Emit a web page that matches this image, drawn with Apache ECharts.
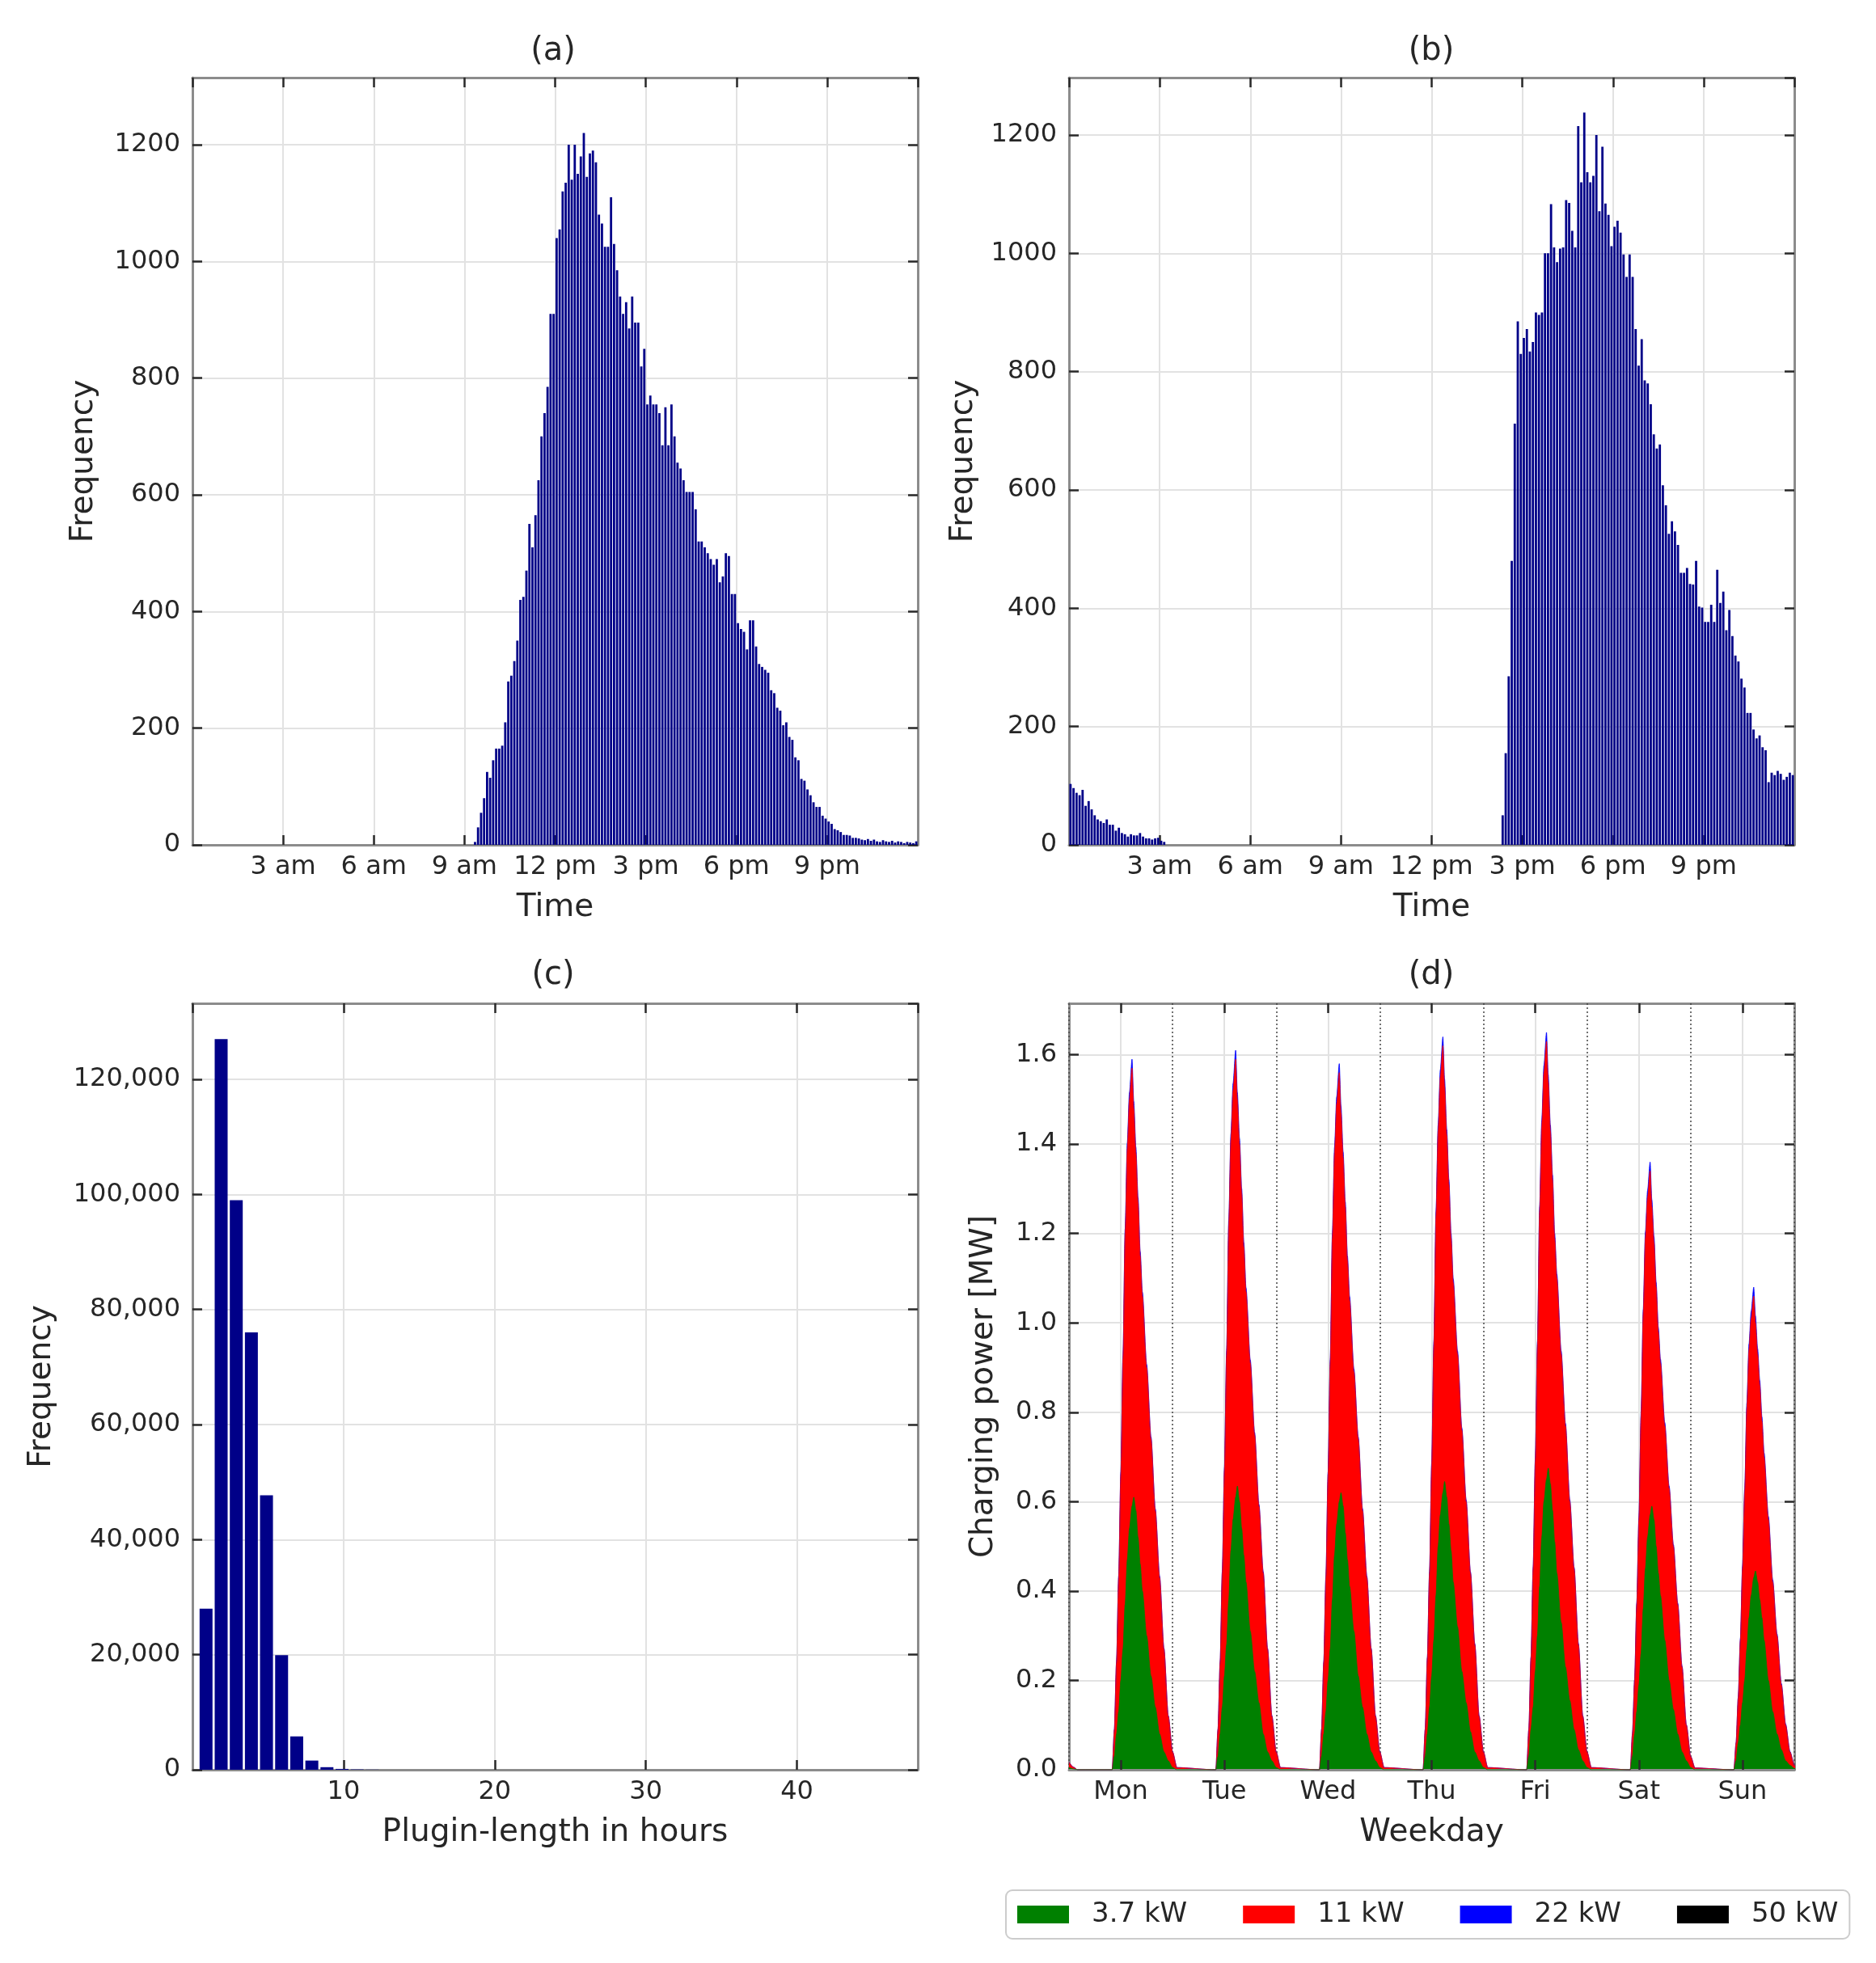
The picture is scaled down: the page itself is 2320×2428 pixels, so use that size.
<!DOCTYPE html>
<html>
<head>
<meta charset="utf-8">
<script src="https://cdn.jsdelivr.net/npm/echarts@6/dist/echarts.min.js"></script>
<style>
  html, body { margin: 0; padding: 0; background: #fff; }
  #chart { width: 2320px; height: 2428px; }
</style>
</head>
<body>
<div id="chart"></div>
<script>
// ---- data ----

// (a) plug-in time histogram, 0.1 h bins, first non-empty bin = 9.3 h
var arrivalStartBin = 93;
var arrivalFreq = [
  5, 30, 55, 80, 125, 115, 145, 165, 165, 170,
  210, 280, 290, 315, 350, 420, 425, 470, 550, 510,
  565, 625, 700, 740, 785, 910, 910, 1040, 1055, 1120,
  1135, 1200, 1140, 1200, 1150, 1180, 1220, 1145, 1185, 1190,
  1170, 1080, 1065, 1025, 1025, 1110, 1030, 985, 940, 910,
  930, 885, 940, 895, 895, 820, 850, 755, 770, 755,
  755, 740, 685, 750, 685, 755, 700, 655, 645, 625,
  605, 605, 605, 575, 520, 520, 510, 500, 490, 480,
  490, 450, 460, 500, 495, 430, 430, 380, 370, 365,
  335, 385, 385, 340, 310, 305, 300, 295, 265, 260,
  235, 230, 205, 210, 185, 180, 150, 145, 113, 110,
  95, 85, 73, 65, 65, 50, 45, 40, 36, 27,
  25, 22, 17, 17, 16, 12, 12, 11, 9, 8,
  10, 7, 9, 6, 5, 8, 6, 5, 7, 4,
  6, 5, 3, 5, 4, 3, 6
];

// (b) plug-out time histogram, 0.1 h bins
var departMorningStartBin = 0;
var departMorning = [
  103, 96, 88, 84, 93, 66, 74, 60, 50, 43,
  40, 37, 43, 34, 34, 24, 29, 20, 18, 14,
  18, 16, 16, 20, 14, 11, 11, 9, 11, 12,
  7, 5
];
var departEveningStartBin = 143;
var departEvening = [
  50, 155, 285, 480, 712, 885, 830, 857, 872, 834,
  850, 900, 896, 900, 1000, 1000, 1083, 1010, 985, 1008,
  1010, 1090, 1085, 1038, 1010, 1215, 1120, 1238, 1137, 1120,
  1131, 1200, 1071, 1180, 1084, 1065, 1012, 1045, 1055, 1035,
  998, 960, 998, 960, 872, 810, 855, 785, 780, 745,
  694, 670, 677, 608, 574, 526, 547, 530, 507, 460,
  460, 468, 441, 440, 480, 403, 401, 377, 377, 406,
  377, 465, 409, 428, 363, 397, 353, 320, 310, 281,
  266, 223, 223, 195, 180, 185, 165, 160, 106, 122,
  118, 125, 120, 110, 115, 122, 118
];

var timeTickHours = [3, 6, 9, 12, 15, 18, 21];
var timeTickNames = ['3 am', '6 am', '9 am', '12 pm', '3 pm', '6 pm', '9 pm'];

// (c) plugin length histogram, 1 h bins
var plugHours = [0.9, 1.9, 2.9, 3.9, 4.9, 5.9, 6.9, 7.9, 8.9, 9.9, 10.9, 11.9];
var plugFreq = [28000, 127000, 99000, 76000, 47700, 19900, 5800, 1600, 450, 150, 60, 25];

// (d) charging power per day, sampled at these hours of each day [MW]
var weekdays = ['Mon', 'Tue', 'Wed', 'Thu', 'Fri', 'Sat', 'Sun'];
var powerNames = ['3.7 kW', '11 kW', '22 kW', '50 kW'];
var powerColors = ['#008000', '#ff0000', '#0000ff', '#000000'];
var dayHours = [10, 10.5, 11, 11.5, 12, 12.5, 13, 13.5, 14, 14.6, 15, 15.5, 16, 16.5, 17, 18, 19, 20, 21, 22, 23, 24, 25];
var green37 = [
  [0, 0.03, 0.08, 0.13, 0.20, 0.27, 0.37, 0.47, 0.54, 0.59, 0.61, 0.58, 0.52, 0.46, 0.40, 0.30, 0.21, 0.14, 0.08, 0.04, 0.02, 0.005, 0],
  [0, 0.03, 0.08, 0.14, 0.21, 0.28, 0.38, 0.49, 0.56, 0.61, 0.635, 0.60, 0.54, 0.48, 0.42, 0.31, 0.22, 0.15, 0.08, 0.04, 0.02, 0.005, 0],
  [0, 0.03, 0.08, 0.13, 0.20, 0.27, 0.38, 0.48, 0.55, 0.60, 0.62, 0.59, 0.53, 0.47, 0.41, 0.31, 0.21, 0.14, 0.08, 0.04, 0.02, 0.005, 0],
  [0, 0.03, 0.08, 0.14, 0.21, 0.29, 0.39, 0.50, 0.57, 0.62, 0.645, 0.61, 0.55, 0.49, 0.42, 0.32, 0.22, 0.15, 0.085, 0.04, 0.02, 0.005, 0],
  [0, 0.03, 0.09, 0.14, 0.22, 0.30, 0.41, 0.52, 0.60, 0.65, 0.675, 0.64, 0.58, 0.51, 0.44, 0.33, 0.23, 0.155, 0.09, 0.045, 0.02, 0.005, 0],
  [0, 0.03, 0.08, 0.13, 0.19, 0.26, 0.36, 0.45, 0.52, 0.57, 0.59, 0.56, 0.50, 0.44, 0.39, 0.29, 0.20, 0.135, 0.08, 0.04, 0.02, 0.005, 0],
  [0, 0.02, 0.06, 0.10, 0.15, 0.20, 0.27, 0.34, 0.39, 0.43, 0.445, 0.42, 0.38, 0.34, 0.29, 0.20, 0.13, 0.08, 0.045, 0.02, 0.01, 0.003, 0]
];
var red11 = [
  [0, 0.06, 0.16, 0.30, 0.46, 0.65, 0.83, 0.92, 0.96, 0.98, 0.87, 0.80, 0.75, 0.69, 0.66, 0.60, 0.53, 0.44, 0.35, 0.23, 0.10, 0.035, 0.005],
  [0, 0.06, 0.16, 0.30, 0.46, 0.65, 0.84, 0.92, 0.96, 0.98, 0.865, 0.80, 0.75, 0.69, 0.65, 0.60, 0.53, 0.44, 0.36, 0.23, 0.10, 0.035, 0.005],
  [0, 0.06, 0.16, 0.30, 0.46, 0.64, 0.81, 0.90, 0.94, 0.96, 0.85, 0.78, 0.73, 0.67, 0.64, 0.58, 0.53, 0.44, 0.35, 0.23, 0.10, 0.035, 0.005],
  [0, 0.06, 0.17, 0.30, 0.47, 0.66, 0.85, 0.93, 0.98, 1.00, 0.885, 0.81, 0.76, 0.70, 0.67, 0.61, 0.54, 0.45, 0.355, 0.24, 0.10, 0.035, 0.005],
  [0, 0.06, 0.16, 0.31, 0.47, 0.65, 0.84, 0.92, 0.96, 0.98, 0.865, 0.79, 0.74, 0.68, 0.66, 0.60, 0.54, 0.445, 0.36, 0.235, 0.10, 0.035, 0.005],
  [0, 0.05, 0.12, 0.24, 0.37, 0.53, 0.66, 0.74, 0.76, 0.77, 0.67, 0.62, 0.58, 0.54, 0.52, 0.48, 0.43, 0.365, 0.29, 0.19, 0.08, 0.025, 0.004],
  [0, 0.04, 0.10, 0.19, 0.30, 0.42, 0.54, 0.60, 0.62, 0.63, 0.555, 0.51, 0.48, 0.44, 0.41, 0.36, 0.29, 0.22, 0.145, 0.08, 0.03, 0.007, 0]
];
var blue22 = [0, 0.001, 0.002, 0.004, 0.006, 0.008, 0.01, 0.013, 0.016, 0.02, 0.016, 0.013, 0.011, 0.01, 0.009, 0.007, 0.005, 0.004, 0.003, 0.002, 0.001, 0, 0];
var black50 = [0, 0, 0, 0, 0, 0, 0, 0, 0, 0, 0, 0, 0, 0, 0, 0, 0, 0, 0, 0, 0, 0, 0];
// leftover charging from the previous week at Monday 0-2 h
var weekStartHours = [0, 1, 2];
var weekStartGreen = [0.005, 0.002, 0];
var weekStartRed = [0.012, 0.004, 0];

// ---- styling ----
var FONT = 'DejaVu Sans';
var TXT = '#262626';
var FRAME = '#8c8c8c';
var GRIDC = '#e2e2e2';
var TICKC = '#2a2a2a';
var BAR = '#000088';

var grids = [
  { left: 238, top: 96, width: 897, height: 949 },
  { left: 1322, top: 96, width: 897, height: 949 },
  { left: 238, top: 1241, width: 897, height: 948 },
  { left: 1322, top: 1241, width: 897, height: 948 }
];

function histPairs(startBin, vals) {
  return vals.map(function (v, i) { return [(startBin + i + 0.5) / 10, v]; });
}

function timeLabel(v) {
  var k = timeTickHours.indexOf(Math.round(v));
  return k < 0 ? '' : timeTickNames[k];
}

function tickStyle() {
  return { show: true, inside: true, length: 12, lineStyle: { color: TICKC, width: 2.5 } };
}

function frameLine() {
  return { show: true, onZero: false, lineStyle: { color: FRAME, width: 3 } };
}

function nameStyle() {
  return { color: TXT, fontSize: 39, fontFamily: FONT };
}

function mainX(grid, min, max, interval, fmt, name) {
  return {
    type: 'value', gridIndex: grid, position: 'bottom', min: min, max: max, interval: interval,
    axisLine: frameLine(),
    axisTick: tickStyle(),
    axisLabel: { formatter: fmt, color: TXT, fontSize: 32, fontFamily: FONT, margin: 12, showMinLabel: false, showMaxLabel: false },
    splitLine: { show: true, lineStyle: { color: GRIDC, width: 2 } },
    name: name, nameLocation: 'middle', nameGap: 58, nameTextStyle: nameStyle()
  };
}

function twinX(grid, min, max, interval) {
  return {
    type: 'value', gridIndex: grid, position: 'top', min: min, max: max, interval: interval,
    axisLine: frameLine(), axisTick: tickStyle(), axisLabel: { show: false }, splitLine: { show: false }
  };
}

function mainY(grid, max, interval, fmt, name, gap) {
  return {
    type: 'value', gridIndex: grid, position: 'left', min: 0, max: max, interval: interval,
    axisLine: frameLine(),
    axisTick: tickStyle(),
    axisLabel: { formatter: fmt, color: TXT, fontSize: 32, fontFamily: FONT, margin: 15, showMaxLabel: false },
    splitLine: { show: true, lineStyle: { color: GRIDC, width: 2 } },
    name: name, nameLocation: 'middle', nameGap: gap, nameTextStyle: nameStyle()
  };
}

function twinY(grid, max, interval) {
  return {
    type: 'value', gridIndex: grid, position: 'right', min: 0, max: max, interval: interval,
    axisLine: frameLine(), axisTick: tickStyle(), axisLabel: { show: false }, splitLine: { show: false }
  };
}

// cumulative top of each layer (green, green+red, green+red+blue), drawn back to front
function weekLayer(depth) {
  var out = weekStartHours.map(function (h, i) {
    return [h, (depth >= 0 ? weekStartGreen[i] : 0) + (depth >= 1 ? weekStartRed[i] : 0)];
  });
  for (var d = 0; d < 7; d++) {
    dayHours.forEach(function (h, i) {
      var v = green37[d][i];
      if (depth >= 1) v += red11[d][i];
      if (depth >= 2) v += blue22[i];
      if (depth >= 3) v += black50[i];
      out.push([d * 24 + h, v]);
    });
  }
  return out;
}

function areaSeries(k) {
  return {
    name: powerNames[k], type: 'line', xAxisIndex: 8, yAxisIndex: 6,
    data: weekLayer(k), color: powerColors[k],
    showSymbol: false, symbol: 'none', smooth: 0.25, smoothMonotone: 'x',
    lineStyle: { width: 0.8, color: powerColors[k] },
    areaStyle: { color: powerColors[k], opacity: 1, origin: 'start' },
    silent: true
  };
}

// 50 kW is empty in the week shown: legend entry only
var blackSeries = {
  name: powerNames[3], type: 'line', xAxisIndex: 8, yAxisIndex: 6,
  data: [[0, black50[0]]],
  color: powerColors[3], showSymbol: false, symbol: 'none',
  lineStyle: { width: 0, opacity: 0 }, silent: true
};

// half-day bands, only used to put light grid lines at noon of each day
var halfDays = [];
weekdays.forEach(function (d) { halfDays.push(d + ' am', d + ' pm'); });

var titleBase = { textAlign: 'center', padding: 0, textStyle: { color: TXT, fontSize: 40, fontWeight: 'normal', fontFamily: FONT } };
function title(t, x, y) { return Object.assign({}, titleBase, { text: t, left: x, top: y }); }

var option = {
  backgroundColor: '#ffffff',
  animation: false,
  title: [title('(a)', 684, 44), title('(b)', 1770, 44), title('(c)', 684, 1187), title('(d)', 1770, 1187)],
  grid: grids,
  legend: {
    data: powerNames, left: 1244, top: 2338, orient: 'horizontal',
    icon: 'rect', itemWidth: 64, itemHeight: 22, itemGap: 69,
    padding: [13, 14], borderColor: '#cccccc', borderWidth: 2, borderRadius: 8,
    textStyle: { color: TXT, fontSize: 34, fontFamily: FONT, padding: [0, 0, 0, 23] }
  },
  xAxis: [
    mainX(0, 0, 24, 3, timeLabel, 'Time'),
    twinX(0, 0, 24, 3),
    mainX(1, 0, 24, 3, timeLabel, 'Time'),
    twinX(1, 0, 24, 3),
    mainX(2, 0, 48, 10, function (v) { return String(v); }, 'Plugin-length in hours'),
    twinX(2, 0, 48, 10),
    {
      type: 'category', gridIndex: 3, position: 'bottom', data: weekdays, boundaryGap: true,
      axisLine: frameLine(),
      axisTick: Object.assign(tickStyle(), { alignWithLabel: true }),
      axisLabel: { color: TXT, fontSize: 32, fontFamily: FONT, margin: 12 },
      splitLine: { show: true, lineStyle: { color: '#444444', width: 1.5, type: [2, 3] } },
      name: 'Weekday', nameLocation: 'middle', nameGap: 58, nameTextStyle: nameStyle(),
      z: 3
    },
    {
      type: 'category', gridIndex: 3, position: 'top', data: weekdays, boundaryGap: true,
      axisLine: frameLine(), axisTick: Object.assign(tickStyle(), { alignWithLabel: true }),
      axisLabel: { show: false }, splitLine: { show: false }
    },
    {
      type: 'value', gridIndex: 3, position: 'bottom', min: 0, max: 168, interval: 24,
      axisLine: { show: false }, axisTick: { show: false }, axisLabel: { show: false },
      splitLine: { show: false }
    },
    {
      type: 'category', gridIndex: 3, position: 'bottom', data: halfDays, boundaryGap: true,
      axisLine: { show: false }, axisTick: { show: false }, axisLabel: { show: false },
      splitLine: {
        show: true, interval: function (i) { return i % 2 === 1; },
        lineStyle: { color: GRIDC, width: 2 }
      }
    }
  ],
  yAxis: [
    mainY(0, 1315, 200, function (v) { return String(v); }, 'Frequency', 115),
    twinY(0, 1315, 200),
    mainY(1, 1297, 200, function (v) { return String(v); }, 'Frequency', 111),
    twinY(1, 1297, 200),
    mainY(2, 133200, 20000, function (v) { return v.toLocaleString('en-US'); }, 'Frequency', 167),
    twinY(2, 133200, 20000),
    mainY(3, 1.715, 0.2, function (v) { return v.toFixed(1); }, 'Charging power [MW]', 86),
    twinY(3, 1.715, 0.2)
  ],
  series: [
    {
      type: 'bar', xAxisIndex: 0, yAxisIndex: 0, barWidth: 2.8,
      data: histPairs(arrivalStartBin, arrivalFreq),
      itemStyle: { color: BAR }, silent: true
    },
    {
      type: 'bar', xAxisIndex: 2, yAxisIndex: 2, barWidth: 2.8,
      data: histPairs(departMorningStartBin, departMorning).concat(histPairs(departEveningStartBin, departEvening)),
      itemStyle: { color: BAR }, silent: true
    },
    {
      type: 'bar', xAxisIndex: 4, yAxisIndex: 4, barWidth: 16,
      data: plugHours.map(function (h, i) { return [h, plugFreq[i]]; }),
      itemStyle: { color: BAR }, silent: true
    },
    areaSeries(2),
    areaSeries(1),
    areaSeries(0),
    blackSeries
  ]
};

var chart = echarts.init(document.getElementById('chart'), null, { renderer: 'canvas' });
chart.setOption(option);
</script>
</body>
</html>
